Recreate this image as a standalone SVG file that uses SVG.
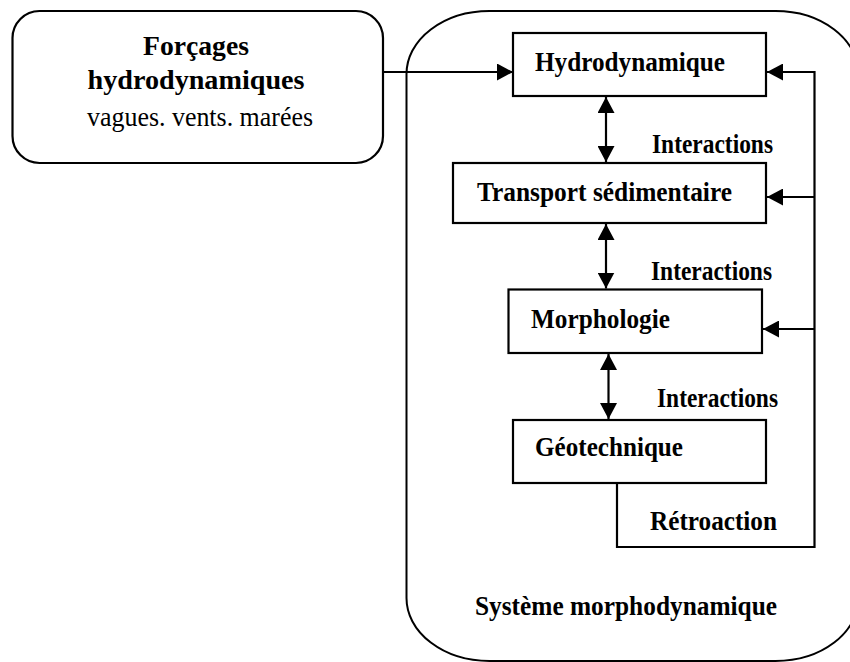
<svg xmlns="http://www.w3.org/2000/svg" width="850" height="662" viewBox="0 0 850 662">
<style>
.box{fill:#fff;stroke:#000;stroke-width:2.2}
.frame{fill:none;stroke:#000;stroke-width:2}
.ln{fill:none;stroke:#000;stroke-width:2.2}
.t{font-family:"Liberation Serif","Times New Roman",serif;font-weight:bold;font-size:27px;fill:#000}
.r{font-family:"Liberation Serif","Times New Roman",serif;font-size:27px;fill:#000}
</style>
<defs>
<marker id="ah" markerUnits="userSpaceOnUse" markerWidth="16" markerHeight="17" refX="16" refY="8.5" orient="auto-start-reverse" viewBox="0 0 16 17">
<path d="M0,0 L16,8.5 L0,17 Z" fill="#000"/>
</marker>
</defs>
<rect width="850" height="662" fill="#fff"/>
<g id="systeme">
<rect class="frame" x="406.5" y="11" width="452" height="650" rx="83" ry="63"/>
<text class="t" x="475" y="615" textLength="302" lengthAdjust="spacingAndGlyphs">Système morphodynamique</text>
</g>
<g id="forcages">
<rect class="box" x="12.5" y="11" width="370.5" height="152" rx="27" ry="27"/>
<text class="t" x="196" y="55" text-anchor="middle" textLength="106" lengthAdjust="spacingAndGlyphs">Forçages</text>
<text class="t" x="196" y="89" text-anchor="middle" textLength="217" lengthAdjust="spacingAndGlyphs">hydrodynamiques</text>
<text class="r" x="200" y="126" text-anchor="middle" textLength="226" lengthAdjust="spacingAndGlyphs">vagues. vents. marées</text>
</g>
<g id="hydrodynamique">
<rect class="box" x="513" y="33" width="253" height="63"/>
<text class="t" x="535" y="71" textLength="190" lengthAdjust="spacingAndGlyphs">Hydrodynamique</text>
</g>
<g id="transport">
<rect class="box" x="453" y="163" width="313" height="60"/>
<text class="t" x="477" y="201" textLength="255" lengthAdjust="spacingAndGlyphs">Transport sédimentaire</text>
</g>
<g id="morphologie">
<rect class="box" x="508.5" y="289.5" width="253.5" height="63.5"/>
<text class="t" x="531" y="328" textLength="139" lengthAdjust="spacingAndGlyphs">Morphologie</text>
</g>
<g id="geotechnique">
<rect class="box" x="513" y="420" width="253" height="63"/>
<text class="t" x="535" y="456" textLength="148" lengthAdjust="spacingAndGlyphs">Géotechnique</text>
</g>
<g id="connecteurs">
<line class="ln" x1="383" y1="72" x2="513" y2="72" marker-end="url(#ah)"/>
<line class="ln" x1="606" y1="97" x2="606" y2="162" marker-start="url(#ah)" marker-end="url(#ah)"/>
<line class="ln" x1="606" y1="224" x2="606" y2="288.5" marker-start="url(#ah)" marker-end="url(#ah)"/>
<line class="ln" x1="608.5" y1="354" x2="608.5" y2="419" marker-start="url(#ah)" marker-end="url(#ah)"/>
<polyline class="ln" points="617,483 617,547 814.5,547 814.5,72 767,72" marker-end="url(#ah)"/>
<line class="ln" x1="814.5" y1="197" x2="767" y2="197" marker-end="url(#ah)"/>
<line class="ln" x1="814.5" y1="329" x2="763" y2="329" marker-end="url(#ah)"/>
<text class="t" x="652" y="153" textLength="121" lengthAdjust="spacingAndGlyphs">Interactions</text>
<text class="t" x="651" y="280" textLength="121" lengthAdjust="spacingAndGlyphs">Interactions</text>
<text class="t" x="657" y="407" textLength="121" lengthAdjust="spacingAndGlyphs">Interactions</text>
<text class="t" x="650" y="530" textLength="127" lengthAdjust="spacingAndGlyphs">Rétroaction</text>
</g>
</svg>
